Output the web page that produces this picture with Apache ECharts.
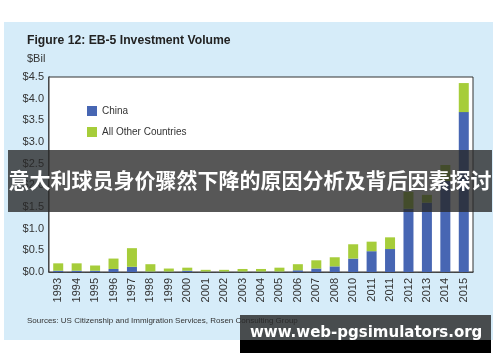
<!DOCTYPE html>
<html>
<head>
<meta charset="utf-8">
<script src="https://cdn.jsdelivr.net/npm/echarts@6/dist/echarts.min.js"></script>
<style>
html,body{margin:0;padding:0;background:#fff;}
#chart{width:500px;height:362px;}
</style>
</head>
<body>
<div id="chart"></div>
<script>
var years = ['1993','1994','1995','1996','1997','1998','1999','2000','2001','2002','2003','2004','2005','2006','2007','2008','2010','2011','2011','2012','2013','2014','2015'];
var china = [0.03,0.03,0.03,0.07,0.12,0.01,0.01,0.03,0.01,0.01,0.01,0.01,0.01,0.04,0.08,0.13,0.31,0.48,0.53,1.46,1.60,2.10,3.69];
var others = [0.17,0.17,0.12,0.24,0.43,0.17,0.07,0.07,0.04,0.04,0.06,0.06,0.09,0.14,0.19,0.21,0.33,0.22,0.27,0.39,0.18,0.37,0.67];
var yTicks = {min:0, max:4.5, interval:0.5};
var titleText = 'Figure 12: EB-5 Investment Volume';
var unitText = '$Bil';
var sourceText = 'Sources: US Citizenship and Immigration Services, Rosen Consulting Group';
var bannerText = '意大利球员身价骤然下降的原因分析及背后因素探讨';
var watermarkText = 'www.web-pgsimulators.org';

var chart = echarts.init(document.getElementById('chart'));
var font = '"Liberation Sans", Arial, sans-serif';
chart.setOption({
  animation: false,
  backgroundColor: '#ffffff',
  textStyle: {fontFamily: font},
  grid: {left: 49, top: 77, right: 27, bottom: 90, show: true, backgroundColor: '#ffffff', borderColor: '#333', borderWidth: 1, z: 1},
  legend: {
    orient: 'vertical', left: 82, top: 101, itemWidth: 10, itemHeight: 10, itemGap: 11,
    icon: 'rect',
    textStyle: {fontSize: 10, color: '#333', fontFamily: font},
    data: ['China', 'All Other Countries']
  },
  xAxis: {
    type: 'category', data: years,
    axisLine: {lineStyle: {color: '#333', width: 1.5}},
    axisTick: {show: false},
    axisLabel: {rotate: 90, fontSize: 11, color: '#333', margin: 6, interval: 0}
  },
  yAxis: {
    type: 'value', min: yTicks.min, max: yTicks.max, interval: yTicks.interval,
    axisLine: {show: true, lineStyle: {color: '#333', width: 1.5}},
    axisTick: {show: false},
    axisLabel: {fontSize: 11, color: '#333', margin: 5, formatter: function(v){return '$' + v.toFixed(1);}},
    splitLine: {lineStyle: {type: [5, 4], color: '#bbb'}}
  },
  series: [
    {name: 'China', type: 'bar', stack: 'a', data: china, barWidth: 10, itemStyle: {color: '#4766b3'}},
    {name: 'All Other Countries', type: 'bar', stack: 'a', data: others, barWidth: 10, itemStyle: {color: '#a6cd3a'}}
  ],
  graphic: [
    {type: 'rect', z: -10, shape: {x: 4, y: 22, width: 489, height: 318}, style: {fill: '#d6ecf9'}},
    {type: 'text', z: 10, left: 27, top: 35, style: {text: titleText, font: 'bold 12.2px ' + font, fill: '#222'}},
    {type: 'text', z: 10, left: 27, top: 53, style: {text: unitText, font: '11px ' + font, fill: '#333'}},
    {type: 'text', z: 10, left: 27, top: 317, style: {text: sourceText, font: '8px ' + font, fill: '#333'}},
    {type: 'rect', z: 100, shape: {x: 8, y: 150, width: 484, height: 62}, style: {fill: 'rgba(40,40,40,0.78)'}},
    {type: 'text', z: 101, left: 'center', top: 170, style: {text: bannerText, font: 'bold 21px "Noto Sans CJK SC", sans-serif', fill: '#ffffff'}},
    {type: 'rect', z: 100, shape: {x: 240, y: 315, width: 251, height: 25}, style: {fill: 'rgba(40,40,40,0.82)'}},
    {type: 'rect', z: 100, shape: {x: 240, y: 340, width: 251, height: 13}, style: {fill: '#000'}},
    {type: 'text', z: 101, left: 250, top: 326, style: {text: watermarkText, font: 'bold 15px "DejaVu Sans", sans-serif', fill: '#ffffff'}}
  ]
});
</script>
</body>
</html>
